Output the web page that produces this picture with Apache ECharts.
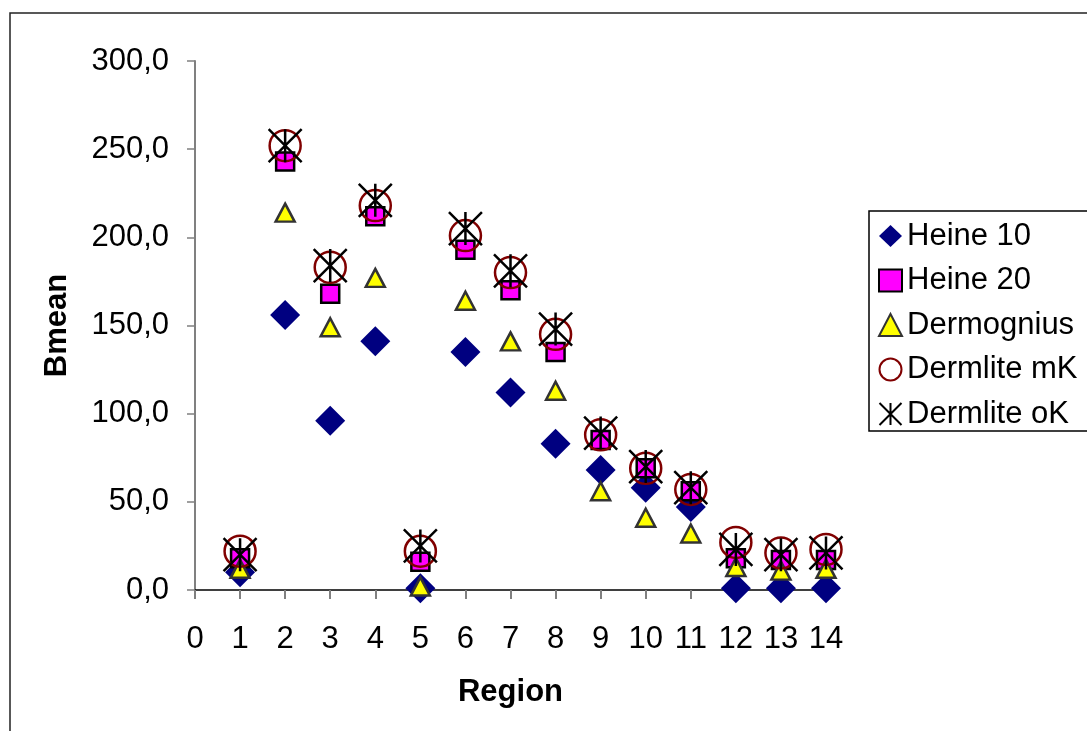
<!DOCTYPE html>
<html>
<head>
<meta charset="utf-8">
<script src="https://cdn.jsdelivr.net/npm/echarts@6/dist/echarts.min.js"></script>
<style>
html,body{margin:0;padding:0;background:#fff;}
#chart{width:1087px;height:731px;}
</style>
</head>
<body>
<div id="chart"></div>
<script>
const regions = [1, 2, 3, 4, 5, 6, 7, 8, 9, 10, 11, 12, 13, 14];
const heine10 = [10, 156, 96, 141, 1, 135, 112, 83, 68, 58, 47, 1, 1, 1];
const heine20 = [18, 243, 168, 212, 16, 193, 170, 135, 85, 69, 56, 18, 17, 17];
const dermognius = [12, 214, 149, 177, 2, 164, 141, 113, 56, 41, 32, 13, 11, 12];
const dermliteMK = [22, 252, 183, 218, 22, 201, 180, 145, 88, 69, 57, 27, 21, 23];
const dermliteOK = [20, 252, 184, 221, 25, 205, 181, 148, 89, 70, 58, 23, 20, 21];
const seriesNames = ['Heine 10', 'Heine 20', 'Dermognius', 'Dermlite mK', 'Dermlite oK'];

const FONT = "'Liberation Sans', Arial, sans-serif";
function pairs(vals) { return regions.map((r, i) => [r, vals[i]]); }

const chart = echarts.init(document.getElementById('chart'), null, {renderer: 'canvas'});
const starPath = 'path://M0,0L100,100M100,0L0,100M50,0L50,100';

chart.setOption({
  animation: false,
  backgroundColor: '#ffffff',
  graphic: [{
    type: 'rect', silent: true, z: -1,
    shape: {x: 10, y: 13, width: 1200, height: 800},
    style: {fill: 'none', stroke: '#222', lineWidth: 1.5}
  }],
  grid: {left: 195, right: 261, top: 61, bottom: 141, containLabel: false},
  xAxis: {
    type: 'value', min: 0, max: 14, interval: 1,
    name: 'Region', nameLocation: 'middle', nameGap: 87,
    nameTextStyle: {fontFamily: FONT, fontSize: 31, fontWeight: 'bold', color: '#000'},
    axisLine: {show: true, onZero: false, lineStyle: {color: '#000', width: 1.5}},
    axisTick: {show: true, inside: false, length: 9, lineStyle: {color: '#808080', width: 2}},
    axisLabel: {fontFamily: FONT, fontSize: 31, color: '#000', margin: 34},
    splitLine: {show: false}
  },
  yAxis: {
    type: 'value', min: 0, max: 300, interval: 50,
    name: 'Bmean', nameLocation: 'middle', nameGap: 122, nameRotate: 90,
    nameTextStyle: {fontFamily: FONT, fontSize: 31, fontWeight: 'bold', color: '#000'},
    axisLine: {show: true, lineStyle: {color: '#808080', width: 2}},
    axisTick: {show: true, inside: false, length: 8, lineStyle: {color: '#808080', width: 1.5}},
    axisLabel: {fontFamily: FONT, fontSize: 31, color: '#000', margin: 26,
      formatter: v => v.toFixed(1).replace('.', ',')},
    splitLine: {show: false}
  },
  legend: {
    orient: 'vertical', left: 869, top: 211,
    backgroundColor: '#fff',
    borderColor: '#000', borderWidth: 1.5,
    padding: [9, 30, 1, 9],
    itemWidth: 23, itemHeight: 22, itemGap: 12.5,
    textStyle: {fontFamily: FONT, fontSize: 31, color: '#000', lineHeight: 32},
    data: seriesNames
  },
  series: [
    {name: seriesNames[0], type: 'scatter', data: pairs(heine10), symbol: 'diamond', symbolSize: 30,
      itemStyle: {color: '#000080', opacity: 1}},
    {name: seriesNames[1], type: 'scatter', data: pairs(heine20), symbol: 'rect', symbolSize: 18,
      itemStyle: {color: '#ff00ff', borderColor: '#000', borderWidth: 2.5, opacity: 1}},
    {name: seriesNames[2], type: 'scatter', data: pairs(dermognius), symbol: 'triangle', symbolSize: [19, 18],
      itemStyle: {color: '#ffff00', borderColor: '#333', borderWidth: 2.5, opacity: 1}},
    {name: seriesNames[3], type: 'scatter', data: pairs(dermliteMK), symbol: 'circle', symbolSize: 31,
      itemStyle: {color: 'rgba(0,0,0,0)', borderColor: '#800000', borderWidth: 2.5, opacity: 1}},
    {name: seriesNames[4], type: 'scatter', data: pairs(dermliteOK), symbol: starPath, symbolSize: 33,
      itemStyle: {color: 'rgba(0,0,0,0)', borderColor: '#000', borderWidth: 2.5, opacity: 1}}
  ]
});
</script>
</body>
</html>
